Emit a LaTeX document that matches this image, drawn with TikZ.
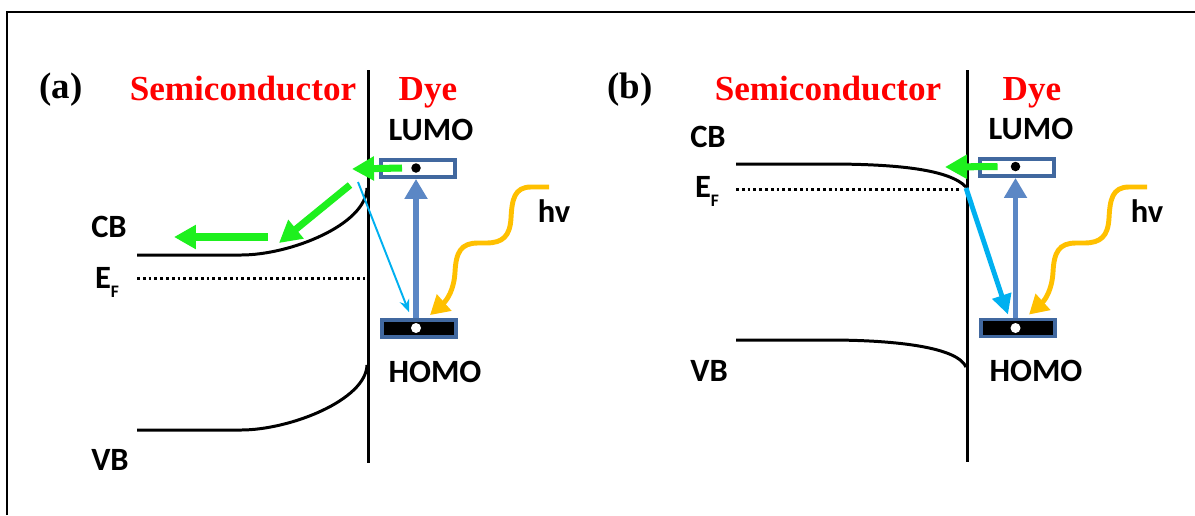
\documentclass[tikz,border=0pt]{standalone}
\usepackage{fontspec}
\setmainfont{Liberation Serif}
\newfontfamily\bandfont{Carlito}
\usetikzlibrary{arrows.meta}

\definecolor{boxblue}{RGB}{65,104,159}
\definecolor{arrowblue}{RGB}{91,135,197}
\definecolor{cyanblue}{RGB}{0,176,240}
\definecolor{hvorange}{RGB}{255,192,0}
\definecolor{injgreen}{RGB}{30,240,30}

\tikzset{
  title/.style={anchor=base, text=red, font=\fontsize{20}{24}\selectfont\bfseries},
  panel/.style={anchor=base, font=\fontsize{21}{25}\selectfont\bfseries},
  band/.style={anchor=base, font=\bandfont\fontsize{18.5}{22}\selectfont\bfseries},
  lumobox/.style={draw=boxblue, line width=2.2pt, fill=white, inner sep=0pt,
    minimum width=1.48cm, minimum height=0.34cm},
  homobox/.style={lumobox, fill=black},
  edot/.style={circle, fill=black, inner sep=0pt, minimum size=0.19cm},
  hdot/.style={circle, fill=white, inner sep=0pt, minimum size=0.2cm},
  level/.style={line width=1.7pt},
  fermi/.style={line width=1.7pt, dash pattern=on 1.6pt off 1.7pt},
  excite/.style={arrowblue, line width=3pt, -{Triangle[length=0.4cm,width=0.44cm]}},
  inject/.style={injgreen, line width=4pt, -{Triangle[length=0.44cm,width=0.46cm]}},
  photon/.style={hvorange, line width=2.8pt, -{Triangle[length=0.38cm,width=0.42cm]}},
  recomb/.style={cyanblue, line width=1.1pt, -{Stealth[length=0.25cm,width=0.2cm]}},
  recombthick/.style={cyanblue, line width=2.8pt, -{Triangle[length=0.4cm,width=0.38cm]}}
}

\newcommand{\fermilabel}{E\raisebox{-5.6pt}{\fontsize{10}{12}\selectfont F}}

\begin{document}
\begin{tikzpicture}[x=0.02cm,y=-0.02cm]
\useasboundingbox (0,0) rectangle (1195,515);
\draw[line width=1.4pt] (7,515) -- (7,12) -- (1195,12);

% panel (a)
\node[panel] (labA) at (61,98) {(a)};
\node[title] (semiA) at (243,100) {Semiconductor};
\node[title] (dyeA) at (428,100) {Dye};
\draw[level] (368,70) -- (368,463);
\draw[level] (137,255) -- (241,255) .. controls (290,255) and (366,225) .. (367,188);
\draw[level] (137,430) -- (241,430) .. controls (290,430) and (366,400) .. (367,365);
\draw[fermi] (137,278) -- (365,278);
\node[band] (cbA) at (109,237) {CB};
\node[band] (efA) at (107,288) {\fermilabel};
\node[band] (vbA) at (110,470) {VB};
\node[band] (lumoTA) at (431,140) {LUMO};
\node[band] (homoTA) at (435,382) {HOMO};
\node[band] (hvA) at (554,222) {hv};
\node[lumobox] (lumoA) at (418,168.5) {};
\node[homobox] (homoA) at (419,328.5) {};
\node[edot] (eA) at (416,168) {};
\node[hdot] (hA) at (416,328) {};
\draw[excite] (hA |- homoA.north) -- (eA |- lumoA.south);
\coordinate (cA) at (358,182);
\draw[recomb] (cA) -- ([xshift=-0.2cm,yshift=0.12cm]homoA.north);
\coordinate (wA) at (549,187);
\draw[photon] (wA) -- (531,187) .. controls (514,187) and (512,200) .. (511,218)
  .. controls (510,236) and (503,243) .. (486,243) -- (478,243)
  .. controls (461,243) and (456,252) .. (455,272)
  .. controls (454,290) and (447,300) .. ([xshift=0.22cm,yshift=0.06cm]homoA.north);
\coordinate (gA1) at (352,169);
\coordinate (gA2) at (350,185);
\coordinate (gA3) at (279,243);
\coordinate (gA4) at (268,237);
\coordinate (gA5) at (174,237);
\draw[inject] ([xshift=-0.28cm]eA.center) -- (gA1);
\draw[inject] (gA2) -- (gA3);
\draw[inject] (gA4) -- (gA5);

% panel (b)
\node[panel] (labB) at (630,98) {(b)};
\node[title] (semiB) at (828,100) {Semiconductor};
\node[title] (dyeB) at (1032,100) {Dye};
\draw[level] (967,70) -- (967,462);
\draw[level] (736,164) -- (828,164) .. controls (900,164) and (950,170) .. (966,187);
\draw[level] (736,340) -- (828,340) .. controls (900,340) and (958,348) .. (966,367);
\draw[fermi] (736,189) -- (962,189);
\node[band] (cbB) at (708,147) {CB};
\node[band] (efB) at (707,197) {\fermilabel};
\node[band] (vbB) at (709,381) {VB};
\node[band] (lumoTB) at (1031,139) {LUMO};
\node[band] (homoTB) at (1036,381) {HOMO};
\node[band] (hvB) at (1147,222) {hv};
\node[lumobox] (lumoB) at (1017,167.5) {};
\node[homobox] (homoB) at (1018,328) {};
\node[edot] (eB) at (1015.5,166.5) {};
\node[hdot] (hB) at (1015.5,328) {};
\draw[excite] (hB |- homoB.north) -- (eB |- lumoB.south);
\coordinate (cB) at (966,188);
\draw[recombthick] (cB) -- ([xshift=-0.2cm,yshift=0.06cm]homoB.north);
\coordinate (wB) at (1147,187);
\draw[photon] (wB) -- (1129,187) .. controls (1112,187) and (1110,200) .. (1109,218)
  .. controls (1108,236) and (1101,243) .. (1084,243) -- (1076,243)
  .. controls (1059,243) and (1054,252) .. (1053,272)
  .. controls (1052,290) and (1045,300) .. ([xshift=0.22cm,yshift=0.06cm]homoB.north);
\coordinate (gB1) at (945,167);
\draw[inject] ([xshift=-0.36cm]eB.center) -- (gB1);
\end{tikzpicture}
\end{document}
